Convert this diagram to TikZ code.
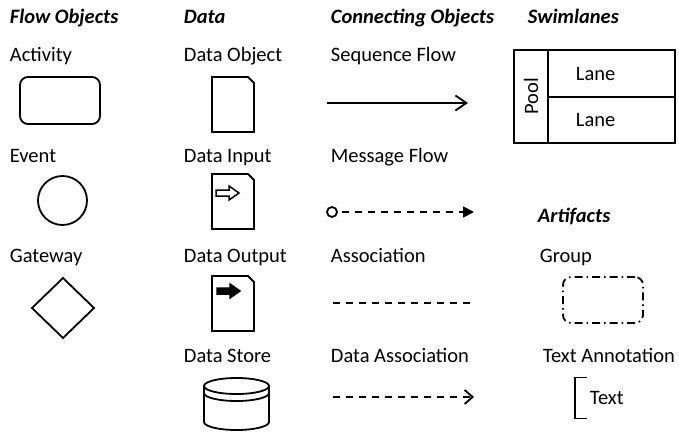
\documentclass[tikz,border=0pt]{standalone}
\usepackage{fontspec}
\setmainfont{Carlito}
\usetikzlibrary{arrows.meta, shapes.geometric, positioning}

\tikzset{
  lbl/.style={anchor=base west, inner sep=0pt, font=\fontsize{20.5}{24}\selectfont},
  hdr/.style={lbl, font=\fontsize{20.5}{24}\selectfont\bfseries\itshape},
  shp/.style={draw, line width=1.8pt, inner sep=0pt, outer sep=0pt},
  dashline/.style={line width=1.8pt, dash pattern=on 7pt off 6pt},
  docpage/.pic={\draw[line width=1.8pt] (0,0) -- (36,0) -- (42,6) -- (42,55) -- (0,55) -- cycle;},
  docarrow/.style={line width=1.5pt, line join=miter}
}

\begin{document}
\begin{tikzpicture}[x=1pt, y=-1pt, line width=1.8pt]
\useasboundingbox (0,0) rectangle (679,433);

% column headers
\node[hdr] (hflow) at (9,24) {Flow Objects};
\node[hdr] (hdata) at (183,24) {Data};
\node[hdr] (hconn) at (330,24) {Connecting Objects};
\node[hdr] (hswim) at (527,24) {Swimlanes};
\node[hdr] (hart) at (537,222) {Artifacts};

% flow objects
\node[lbl] (actlbl) at (9,62) {Activity};
\node[lbl] (evlbl) at (9,162) {Event};
\node[lbl] (gwlbl) at (9,262) {Gateway};
\node[shp, rounded corners=8pt, minimum width=80pt, minimum height=47pt] (activity) at (60,100.5) {};
\node[shp, circle, minimum size=49pt] (event) at (62.5,200.5) {};
\node[shp, diamond, minimum width=62pt, minimum height=60pt] (gateway) at (63,308) {};

% data
\node[lbl] (dobjlbl) at (183,62) {Data Object};
\node[lbl] (dinlbl) at (183,162) {Data Input};
\node[lbl] (doutlbl) at (183,262) {Data Output};
\node[lbl] (dstorelbl) at (183,362) {Data Store};
\pic at (212,77) {docpage};
\pic at (212,174) {docpage};
\pic at (212,276) {docpage};
\draw[docarrow] (216,190) -- (229,190) -- (229,186) -- (239,193) -- (229,200) -- (229,196) -- (216,196) -- cycle;
\draw[docarrow, fill=black] (217,288) -- (230,288) -- (230,284) -- (240,291) -- (230,298) -- (230,294) -- (217,294) -- cycle;

% data store
\coordinate (store) at (236.5,386);
\draw (store) ellipse[x radius=32.5pt, y radius=8pt];
\draw ([xshift=-32.5pt]store) -- ++(0,36) arc[start angle=180, end angle=360, x radius=32.5pt, y radius=8pt] -- ++(0,-36);
\draw ([xshift=-32.5pt, yshift=-7pt]store) arc[start angle=180, end angle=360, x radius=32.5pt, y radius=8pt];

% connecting objects
\node[lbl] (seqlbl) at (330,62) {Sequence Flow};
\node[lbl] (msglbl) at (330,162) {Message Flow};
\node[lbl] (asslbl) at (330,262) {Association};
\node[lbl] (dasslbl) at (330,362) {Data Association};
\coordinate (seqA) at (327,103);
\coordinate (seqB) at (468,103);
\draw[-{Straight Barb[length=11pt, width=15pt]}] (seqA) -- (seqB);
\node[shp, circle, minimum size=10pt] (msgA) at (332,212) {};
\coordinate (msgB) at (474,212);
\draw[dashline, dash phase=-5pt, -{Triangle[length=11pt, width=11pt]}] (msgA) -- (msgB);
\coordinate (assA) at (333,303);
\coordinate (assB) at (476,303);
\draw[dashline] (assA) -- (assB);
\coordinate (dassA) at (333,397);
\coordinate (dassB) at (474,397);
\draw[dashline, -{Straight Barb[length=8pt, width=14pt]}] (dassA) -- (dassB);

% swimlanes
\node[shp, anchor=north west, minimum width=34pt, minimum height=93pt] (poolband) at (514,50) {};
\node[rotate=90, inner sep=0pt, font=\fontsize{20.5}{24}\selectfont] (poollbl) at (poolband.center) {Pool};
\node[shp, anchor=north west, minimum width=127pt, minimum height=47pt] (lane1) at (548,50) {};
\node[shp, anchor=north west, minimum width=127pt, minimum height=46pt] (lane2) at (lane1.south west) {};
\node[inner sep=0pt, font=\fontsize{20.5}{24}\selectfont, anchor=west] (lane1lbl) at ([xshift=27pt]lane1.west) {Lane};
\node[inner sep=0pt, font=\fontsize{20.5}{24}\selectfont, anchor=west] (lane2lbl) at ([xshift=27pt]lane2.west) {Lane};

% artifacts
\node[lbl] (grplbl) at (539,262) {Group};
\node[lbl] (annlbl) at (542,362) {Text Annotation};
\node[shp, rounded corners=8pt, dash pattern=on 8pt off 4pt on 1.5pt off 4pt, anchor=north west, minimum width=80pt, minimum height=46pt] (group) at (563,277) {};
\node[inner sep=0pt, font=\fontsize{20.5}{24}\selectfont, anchor=west] (annot) at (589,398) {Text};
\draw (annot.west) ++(-2,-20.5) -- ++(-12,0) -- ++(0,41) -- ++(12,0);

\end{tikzpicture}
\end{document}
